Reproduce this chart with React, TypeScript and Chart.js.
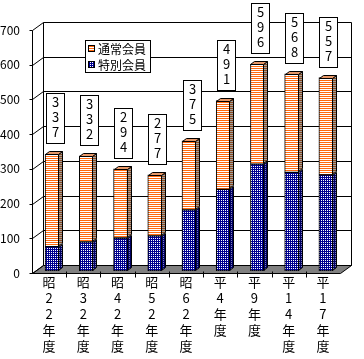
import React, { useEffect, useRef } from 'react';
import { Chart, registerables } from 'chart.js';

Chart.register(...registerables);

const categories: string[][] = [
  ['昭', '2', '2', '年', '度'],
  ['昭', '3', '2', '年', '度'],
  ['昭', '4', '2', '年', '度'],
  ['昭', '5', '2', '年', '度'],
  ['昭', '6', '2', '年', '度'],
  ['平', '4', '年', '度'],
  ['平', '9', '年', '度'],
  ['平', '1', '4', '年', '度'],
  ['平', '1', '7', '年', '度'],
];
const seriesNames = ['特別会員', '通常会員'];
const special = [70, 84, 95, 101, 176, 235, 308, 284, 277];
const regular = [267, 248, 199, 176, 199, 256, 288, 284, 280];
const totals = [337, 332, 294, 277, 375, 491, 596, 568, 557];
const yMin = 0;
const yMax = 700;
const yStep = 100;

const FONT = '"Noto Sans CJK JP", "Noto Sans", sans-serif';

function makePattern(w: number, h: number, draw: (g: CanvasRenderingContext2D) => void) {
  const c = document.createElement('canvas');
  c.width = w;
  c.height = h;
  const g = c.getContext('2d')!;
  draw(g);
  return g.createPattern(c, 'repeat')!;
}

export default function App() {
  const ref = useRef<HTMLCanvasElement | null>(null);

  useEffect(() => {
    const canvas = ref.current!;
    const orange = makePattern(2, 2, (g) => {
      g.fillStyle = '#ffffff';
      g.fillRect(0, 0, 2, 2);
      g.fillStyle = '#ff6a10';
      g.fillRect(0, 0, 2, 1);
    });
    const orangeSide = makePattern(2, 2, (g) => {
      g.fillStyle = '#a0a0a0';
      g.fillRect(0, 0, 2, 2);
      g.fillStyle = '#8a4a20';
      g.fillRect(0, 0, 2, 1);
    });
    const blue = makePattern(2, 2, (g) => {
      g.fillStyle = '#000090';
      g.fillRect(0, 0, 2, 2);
      g.fillStyle = '#ffffff';
      g.fillRect(0, 0, 1, 1);
    });
    const blueSide = makePattern(2, 2, (g) => {
      g.fillStyle = '#000060';
      g.fillRect(0, 0, 2, 2);
      g.fillStyle = '#8080c0';
      g.fillRect(0, 0, 1, 1);
    });
    const fills = [blue, orange];
    const sideFills = [blueSide, orangeSide];

    const DX = 11, DY = 8; // wall depth
    const BX = 3, BY = 2; // bar position inside depth
    const BD = 4, BDY = 3; // bar depth

    const threeD = {
      id: 'threeD',
      beforeDatasetsDraw(chart: any) {
        const ctx = chart.ctx as CanvasRenderingContext2D;
        const { left, right, bottom } = chart.chartArea;
        const ys = chart.scales.y;
        const L = Math.round(left) + 0.5;
        const R = Math.round(right) + 0.5;
        const B = Math.round(bottom) + 0.5;
        ctx.save();
        ctx.strokeStyle = '#000';
        ctx.lineWidth = 1;
        // floor
        ctx.beginPath();
        ctx.moveTo(L, B);
        ctx.lineTo(L + DX, B - DY);
        ctx.lineTo(R + DX, B - DY);
        ctx.lineTo(R, B);
        ctx.closePath();
        ctx.fillStyle = '#808080';
        ctx.fill();
        ctx.stroke();
        // grid lines, diagonals, ticks
        for (let v = yMin; v <= yMax; v += yStep) {
          const y = Math.round(ys.getPixelForValue(v)) + 0.5;
          ctx.beginPath();
          ctx.moveTo(L - 3, y);
          ctx.lineTo(L, y);
          ctx.lineTo(L + DX, y - DY);
          ctx.lineTo(R + DX, y - DY);
          ctx.stroke();
        }
        const yT = Math.round(ys.getPixelForValue(yMax)) + 0.5;
        ctx.beginPath();
        ctx.moveTo(L, yT);
        ctx.lineTo(L, B);
        ctx.moveTo(L + DX, yT - DY);
        ctx.lineTo(L + DX, B - DY);
        ctx.moveTo(R + DX, yT - DY);
        ctx.lineTo(R + DX, B - DY);
        ctx.stroke();
        // category boundary ticks on floor front edge
        const n = categories.length;
        const cw = (right - left) / n;
        ctx.beginPath();
        for (let i = 1; i < n; i++) {
          const x = Math.round(left + i * cw) + 0.5;
          ctx.moveTo(x, B - 2);
          ctx.lineTo(x, B + 4);
        }
        ctx.stroke();
        ctx.restore();
        ctx.save();
        ctx.translate(BX, -BY);
      },
      afterDatasetsDraw(chart: any) {
        const ctx = chart.ctx as CanvasRenderingContext2D;
        const nd = chart.data.datasets.length;
        ctx.strokeStyle = '#000';
        ctx.lineWidth = 1;
        for (let d = 0; d < nd; d++) {
          const meta = chart.getDatasetMeta(d);
          meta.data.forEach((el: any) => {
            const { x, y, base, width } = el.getProps(['x', 'y', 'base', 'width'], true);
            const l = Math.round(x - width / 2) + 0.5;
            const r = Math.round(x + width / 2) - 0.5;
            const t = Math.round(y) + 0.5;
            const b = Math.round(base) - 0.5;
            ctx.beginPath();
            ctx.moveTo(r, t);
            ctx.lineTo(r + BD, t - BDY);
            ctx.lineTo(r + BD, b - BDY);
            ctx.lineTo(r, b);
            ctx.closePath();
            ctx.fillStyle = sideFills[d];
            ctx.fill();
            ctx.stroke();
            if (d === nd - 1) {
              ctx.beginPath();
              ctx.moveTo(l, t);
              ctx.lineTo(l + BD, t - BDY);
              ctx.lineTo(r + BD, t - BDY);
              ctx.lineTo(r, t);
              ctx.closePath();
              ctx.fillStyle = '#e89868';
              ctx.fill();
              ctx.stroke();
            }
          });
        }
        ctx.restore();
      },
      afterDraw(chart: any) {
        const ctx = chart.ctx as CanvasRenderingContext2D;
        ctx.save();
        ctx.strokeStyle = '#000';
        ctx.lineWidth = 1;
        // value boxes
        const top = chart.getDatasetMeta(chart.data.datasets.length - 1);
        ctx.font = `13px ${FONT}`;
        ctx.textAlign = 'center';
        ctx.textBaseline = 'middle';
        top.data.forEach((el: any, i: number) => {
          const { x, y } = el.getProps(['x', 'y'], true);
          const cx = Math.round(x + BX + 2.5);
          const bw = 19, bh = 51;
          const bb = Math.round(y - BY - 10);
          const bl = cx - Math.floor(bw / 2);
          const bt = bb - bh;
          ctx.fillStyle = '#fff';
          ctx.fillRect(bl, bt, bw, bh);
          ctx.strokeRect(bl + 0.5, bt + 0.5, bw - 1, bh - 1);
          ctx.fillStyle = '#000';
          const s = String(totals[i]);
          for (let k = 0; k < s.length; k++) {
            ctx.fillText(s[k], cx + 0.5, bt + 9 + k * 15);
          }
        });
        // legend
        const lx = 85, ly = 40, lw = 66, lh = 33;
        ctx.fillStyle = '#fff';
        ctx.fillRect(lx, ly, lw, lh);
        ctx.strokeRect(lx + 0.5, ly + 0.5, lw - 1, lh - 1);
        const order = [1, 0];
        ctx.font = `12px ${FONT}`;
        ctx.textAlign = 'left';
        ctx.textBaseline = 'middle';
        order.forEach((d, k) => {
          const cy = ly + 9 + k * 16;
          ctx.fillStyle = fills[d];
          ctx.fillRect(lx + 3, cy - 4, 7, 7);
          ctx.strokeRect(lx + 3.5, cy - 3.5, 6, 6);
          ctx.fillStyle = '#000';
          ctx.fillText(chart.data.datasets[d].label, lx + 13, cy);
        });
        ctx.restore();
      },
    };

    const chart = new Chart(canvas, {
      type: 'bar',
      data: {
        labels: categories,
        datasets: [
          {
            label: seriesNames[0],
            data: special,
            backgroundColor: blue,
            borderColor: '#000',
            borderWidth: 1,
            borderSkipped: false,
            barThickness: 14,
          },
          {
            label: seriesNames[1],
            data: regular,
            backgroundColor: orange,
            borderColor: '#000',
            borderWidth: 1,
            borderSkipped: false,
            barThickness: 14,
          },
        ],
      },
      options: {
        animation: false,
        responsive: false,
        devicePixelRatio: 1,
        layout: { padding: { top: 30, right: 24, left: 0, bottom: 0 } },
        plugins: { legend: { display: false }, tooltip: { enabled: false } },
        scales: {
          x: {
            stacked: true,
            offset: true,
            grid: { display: false, drawTicks: false, tickLength: 0 },
            border: { display: false },
            ticks: {
              color: '#000',
              font: { family: FONT, size: 13, lineHeight: 1.23 },
              padding: 1,
              maxRotation: 0,
              autoSkip: false,
            },
            afterFit: (s: any) => {
              s.height = 86;
            },
          },
          y: {
            stacked: true,
            min: yMin,
            max: yMax,
            grid: { display: false },
            border: { display: false },
            ticks: {
              stepSize: yStep,
              color: '#000',
              font: { family: FONT, size: 12 },
              padding: 4,
            },
            afterFit: (s: any) => {
              s.width = 32;
            },
          },
        },
      },
      plugins: [threeD],
    });
    return () => chart.destroy();
  }, []);

  return (
    <div style={{ position: 'fixed', left: 0, top: 0, width: 364, height: 359, background: '#fff' }}>
      <canvas ref={ref} width={364} height={359} style={{ width: 364, height: 359 }} />
    </div>
  );
}
